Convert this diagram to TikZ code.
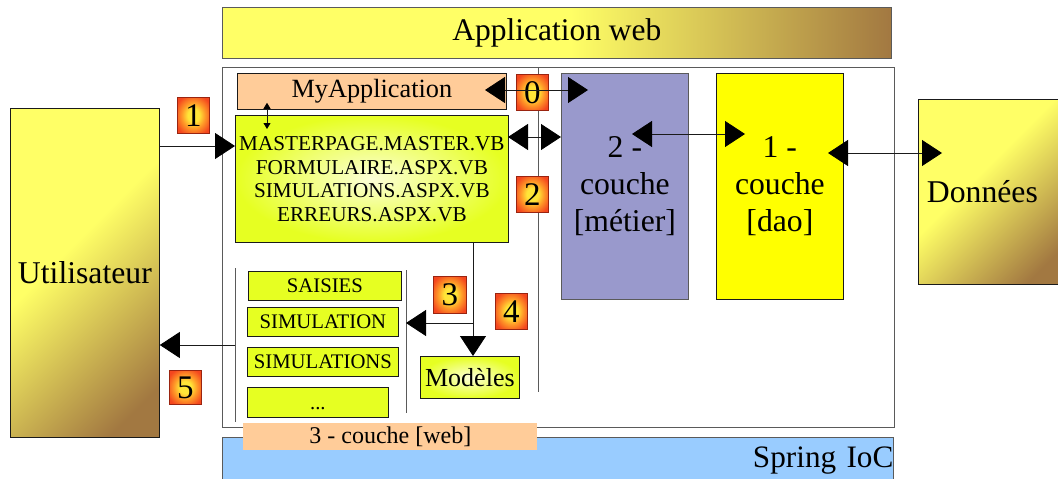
\documentclass[tikz,border=0pt]{standalone}
\usepackage{fontspec}
\setmainfont{Liberation Serif}
\usetikzlibrary{arrows.meta}
\definecolor{ylw}{HTML}{FFFF66}
\definecolor{brn}{HTML}{A27841}
\definecolor{peach}{HTML}{FFCC99}
\definecolor{lime}{HTML}{E6FF22}
\definecolor{limelight}{HTML}{FCFFD8}
\definecolor{metierc}{HTML}{9999CC}
\definecolor{daoc}{HTML}{FFFF00}
\definecolor{springc}{HTML}{99CCFF}
\definecolor{numc}{HTML}{FFE638}
\definecolor{numm}{HTML}{FF9A28}
\definecolor{numout}{HTML}{F4461E}
\definecolor{numbord}{HTML}{9A2410}
\definecolor{framec}{HTML}{5A5A5A}
\definecolor{linec}{HTML}{1A1A1A}
\pgfdeclarehorizontalshading{goldh}{100bp}{color(0bp)=(ylw); color(25bp)=(ylw); color(51bp)=(ylw); color(75bp)=(brn); color(100bp)=(brn)}
\pgfdeclarehorizontalshading{goldd}{100bp}{color(0bp)=(ylw); color(25bp)=(ylw); color(44bp)=(ylw); color(78bp)=(brn); color(100bp)=(brn)}
\pgfdeclareradialshading{numsh}{\pgfpoint{0bp}{0bp}}{color(0bp)=(numc); color(9bp)=(numc); color(18bp)=(numm); color(30bp)=(numout); color(50bp)=(numout)}
\newcommand\fsz[2]{\fontsize{#1}{#2}\selectfont}
\tikzset{
  box/.style={draw=linec, line width=0.8pt, inner sep=0pt, anchor=north west},
  lbox/.style={box, left color=lime, middle color=limelight, right color=lime, font=\fsz{20.7}{22}},
  rbox/.style={box, inner color=limelight, outer color=lime},
  numbox/.style={draw=numbord, line width=0.8pt, inner sep=0pt, anchor=north west,
    shading=numsh, minimum width=32, minimum height=36, font=\fsz{33}{33}},
  tip/.style={Triangle[length=20pt,width=26pt,fill=black]},
  arr/.style={draw=linec, line width=0.8pt, -{Triangle[length=20pt,width=26pt,color=black]}},
  dbl/.style={draw=linec, line width=0.8pt, {Triangle[length=20pt,width=26pt,color=black]}-{Triangle[length=20pt,width=26pt,color=black]}},
  sdbl/.style={draw=linec, line width=0.8pt, {Triangle[length=6pt,width=7pt,color=black]}-{Triangle[length=6pt,width=7pt,color=black]}},
  guide/.style={draw=framec, line width=0.8pt}
}
\begin{document}
\begin{tikzpicture}[x=1pt, y=-1pt]
\useasboundingbox (0,0) rectangle (1058,479);
% big frames
\node[box, draw=framec, minimum width=669, minimum height=51, shading=goldh, font=\fsz{31.5}{33}] (appweb) at (222,7) {Application web};
\node[box, draw=framec, fill=white, minimum width=672, minimum height=360] (container) at (222,67) {};
\node[box, draw=framec, fill=springc, minimum width=671, minimum height=46, text width=671, align=right, font=\fsz{31.2}{33}] (spring) at (222,437) {Spring IoC};
% guide lines
\coordinate (splitT) at (538,67);
\coordinate (splitB) at (538,392);
\draw[guide] (splitT) -- (splitB);
\coordinate (listLT) at (235,268);
\coordinate (listLB) at (235,422);
\coordinate (listRT) at (406,270);
\coordinate (listRB) at (406,413);
\draw[guide] (listLT) -- (listLB);
\draw[guide] (listRT) -- (listRB);
% web layer boxes
\node[box, fill=peach, minimum width=269, minimum height=36, font=\fsz{26.3}{28}] (myapp) at (237,73) {MyApplication};
\node[box, rbox, minimum width=273, minimum height=127, align=center, font=\fsz{21.2}{23.5}] (master) at (235,115)
  {MASTERPAGE.MASTER.VB\\FORMULAIRE.ASPX.VB\\SIMULATIONS.ASPX.VB\\ERREURS.ASPX.VB};
\node[lbox, minimum width=153, minimum height=29] (saisies) at (248,271) {SAISIES};
\node[lbox, minimum width=151, minimum height=29] (simulation) at (247,307) {SIMULATION};
\node[lbox, minimum width=151, minimum height=29] (simulations) at (247,347) {SIMULATIONS};
\node[lbox, minimum width=141, minimum height=30] (dots) at (247,387) {\vphantom{S}...};
\node[rbox, minimum width=99, minimum height=42, font=\fsz{26}{28}] (modeles) at (420,356) {Modèles};
\node[box, draw=none, fill=peach, minimum width=294, minimum height=27, font=\fsz{24}{26}] (weblabel) at (243,423) {3 - couche [web]};
% layers
\node[box, draw=framec, fill=metierc, minimum width=127, minimum height=226, align=center, font=\fsz{31.7}{37}] (metier) at (561,73) {2 -\\couche\\{[}métier{]}};
\node[box, fill=daoc, minimum width=127, minimum height=226, align=center, font=\fsz{31.7}{37}] (dao) at (716,73) {1 -\\couche\\{[}dao{]}};
\node[box, minimum width=149, minimum height=329, shading=goldd, shading angle=-45, font=\fsz{31.7}{33}] (util) at (10,108) {Utilisateur};
\node[box, minimum width=142, minimum height=185, shading=goldd, shading angle=-45, font=\fsz{31.7}{33}] (donnees) at (918,99) {\hspace*{-14pt}Données};
% numbers
\node[numbox] (n0) at (516,74) {0};
\node[numbox] (n1) at (177,97) {1};
\node[numbox] (n2) at (516,176) {2};
\node[numbox, minimum width=33, minimum height=37] (n3) at (433,276) {3};
\node[numbox] (n4) at (495,293) {4};
\node[numbox, minimum height=34] (n5) at (169,370) {5};
% connectors
\coordinate (u1) at (159,146);
\draw[arr] (u1) -- (master.west |- u1);
\coordinate (l5) at (235,345);
\draw[arr] (l5) -- (util.east |- l5);
\coordinate (r0) at (506,90);
\draw[dbl, shorten <=-21pt, shorten >=-27pt] (r0) -- (metier.west |- r0);
\coordinate (m2) at (508,137);
\draw[dbl] (m2) -- (metier.west |- m2);
\coordinate (md) at (688,134);
\draw[dbl, shorten <=-56pt, shorten >=-29pt] (md) -- (dao.west |- md);
\coordinate (dd) at (843,153);
\draw[dbl, shorten <=-15pt, shorten >=-24pt] (dd) -- (donnees.west |- dd);
\coordinate (sx) at (267,0);
\draw[sdbl, shorten <=-7pt, shorten >=-14pt] (myapp.south -| sx) -- (master.north -| sx);
\coordinate (vx) at (473,0);
\draw[arr] (master.south -| vx) -- (modeles.north -| vx);
\coordinate (j3) at (473,323);
\draw[arr] (j3) -- (j3 -| listRT);
\end{tikzpicture}
\end{document}
